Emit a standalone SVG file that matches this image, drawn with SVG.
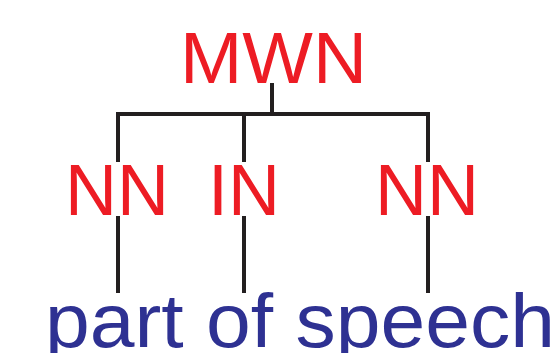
<svg xmlns="http://www.w3.org/2000/svg" width="555" height="353" viewBox="0 0 555 353">
  <style>
    .tag { font-family: "Liberation Sans", Arial, sans-serif; font-size: 72px; fill: #ed1c24; }
    .pos { font-family: "Liberation Sans", Arial, sans-serif; font-size: 76px; fill: #2e3192; }
    .edge { fill: none; stroke: #231f20; stroke-width: 4; stroke-linecap: butt; stroke-linejoin: miter; }
  </style>
  <rect width="555" height="353" fill="#ffffff"/>

  <!-- tree branches -->
  <g id="connectors">
    <path class="edge" d="M272,83 V114"/>
    <path class="edge" d="M118,162 V114 H428 V162"/>
    <path class="edge" d="M244,114 V162"/>
    <path class="edge" d="M118,216 V293"/>
    <path class="edge" d="M244,216 V293"/>
    <path class="edge" d="M428,216 V293"/>
  </g>

  <g id="node-mwn">
    <text class="tag" x="180" y="83" textLength="187" lengthAdjust="spacingAndGlyphs">MWN</text>
  </g>
  <g id="node-nn-left">
    <text class="tag" x="65" y="215">NN</text>
  </g>
  <g id="node-in">
    <text class="tag" x="208" y="215">IN</text>
  </g>
  <g id="node-nn-right">
    <text class="tag" x="375" y="215">NN</text>
  </g>
  <g id="node-pos">
    <text class="pos" x="45" y="347" textLength="510" lengthAdjust="spacingAndGlyphs">part of speech</text>
  </g>
</svg>
